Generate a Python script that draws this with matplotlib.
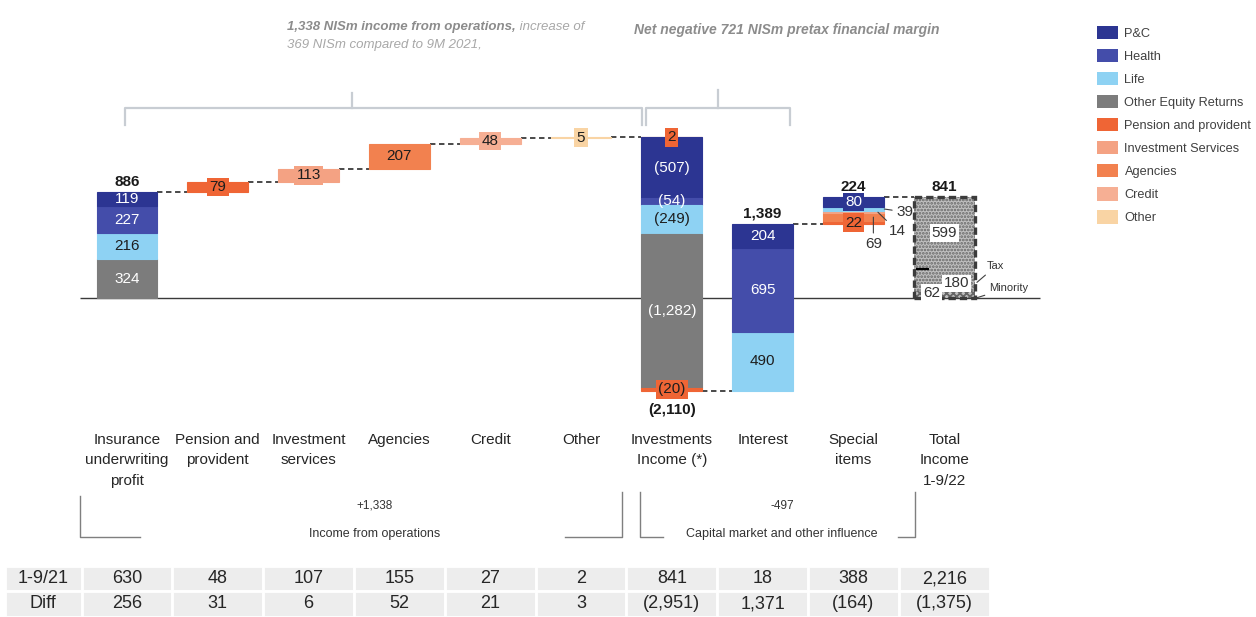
import matplotlib
matplotlib.use("Agg")
import matplotlib.pyplot as plt
import matplotlib.transforms as mtransforms
from matplotlib.patches import Patch, Rectangle
from matplotlib.lines import Line2D

# ---------------------------------------------------------------------------
# data (NIS millions)
# ---------------------------------------------------------------------------
categories = ["Insurance\nunderwriting\nprofit", "Pension and\nprovident",
              "Investment\nservices", "Agencies", "Credit", "Other",
              "Investments\nIncome (*)", "Interest", "Special\nitems",
              "Total\nIncome\n1-9/22"]

uw_series = ["Other Equity Returns", "Life", "Health", "P&C"]
uw_values = [324, 216, 227, 119]

ops_series = ["Pension and provident", "Investment Services", "Agencies",
              "Credit", "Other"]
ops_values = [79, 113, 207, 48, 5]

inv_series = ["Pension and provident", "P&C", "Health", "Life",
              "Other Equity Returns", "Pension and provident"]
inv_values = [2, -507, -54, -249, -1282, -20]

int_series = ["Life", "Health", "P&C"]
int_values = [490, 695, 204]

spec_series = ["Pension and provident", "Agencies", "Investment Services",
               "Life", "P&C"]
spec_values = [22, 69, 14, 39, 80]

total_parts = ["Minority", "Tax", "Net"]
total_values = [62, 180, 599]

prev_values = [630, 48, 107, 155, 27, 2, 841, 18, 388, 2216]

legend_names = ["P&C", "Health", "Life", "Other Equity Returns",
                "Pension and provident", "Investment Services", "Agencies",
                "Credit", "Other"]

colors = {
    "P&C": "#2C3592",
    "Health": "#444DAA",
    "Life": "#8ED2F3",
    "Other Equity Returns": "#7C7C7C",
    "Pension and provident": "#EF6535",
    "Investment Services": "#F4A283",
    "Agencies": "#F2814F",
    "Credit": "#F6AF94",
    "Other": "#F9D4A4",
}
light_text = {"P&C", "Health", "Other Equity Returns"}

# ---------------------------------------------------------------------------
# layout
# ---------------------------------------------------------------------------
W, H = 1256, 617
X0_PX, X_PX = 127, 90.8     # first category column, pixels per slot
Y0_PX, Y_PX = 298, 0.12     # zero line row, pixels per NISm
BAR_W = 0.67
FONT = ["Liberation Sans", "DejaVu Sans"]


def fmt(v):
    s = f"{abs(v):,}"
    return f"({s})" if v < 0 else s


def fx(px):
    return px / W


def fy(py):
    return 1 - py / H


fig = plt.figure(figsize=(W / 100, H / 100), dpi=100)
ax = fig.add_axes([0, 0, 1, 1])
ax.set_xlim(-X0_PX / X_PX, (W - X0_PX) / X_PX)
ax.set_ylim(-(H - Y0_PX) / Y_PX, Y0_PX / Y_PX)
ax.axis("off")
xdata_yfig = mtransforms.blended_transform_factory(ax.transData, fig.transFigure)

# zero line
ax.hlines(0, -0.52, 10.05, color="#3A3A3A", lw=1, zorder=1)


def seg_label(x, y, v, series, boxed=False, size=11):
    tc = "white" if series in light_text else "#1E1E1E"
    bbox = None
    if boxed:
        bbox = dict(boxstyle="square,pad=0.15", fc=colors[series], ec="none")
    ax.text(x, y, fmt(v), ha="center", va="center", color=tc, fontsize=size,
            family=FONT, bbox=bbox, zorder=5)


def draw_stack(x, base, series, values, labelled=True, boxed=False):
    level = base
    for s, v in zip(series, values):
        ax.bar(x, v, bottom=level, width=BAR_W, color=colors[s],
               edgecolor=colors[s], linewidth=0.8, zorder=2)
        if labelled:
            seg_label(x, level + v / 2, v, s, boxed=boxed or abs(v) < 50)
        level += v
    return level


def connector(x_from, x_to, level):
    ax.plot([x_from + BAR_W / 2, x_to - BAR_W / 2], [level, level],
            color="#3A3A3A", lw=1.3, ls=(0, (3, 2)), zorder=1)


def total_label(x, level, v, below=False):
    off = -12 if below else 3
    ax.annotate(fmt(v), (x, level), xytext=(0, off), textcoords="offset pixels",
                ha="center", va="top" if below else "bottom", fontsize=11,
                fontweight="bold", family=FONT, color="#1A1A1A", zorder=5)


# insurance underwriting profit
level = draw_stack(0, 0, uw_series, uw_values)
total_label(0, level, sum(uw_values))

# income from operations
for i, (s, v) in enumerate(zip(ops_series, ops_values), start=1):
    connector(i - 1, i, level)
    level = draw_stack(i, level, [s], [v], boxed=True)

# investments income
connector(5, 6, level)
level = draw_stack(6, level, inv_series, inv_values)
total_label(6, level, sum(inv_values), below=True)

# interest
connector(6, 7, level)
level = draw_stack(7, level, int_series, int_values, labelled=False)
lv = level - sum(int_values)
for s, v in zip(int_series, int_values):
    seg_label(7, lv + v / 2, v, s)
    lv += v
total_label(7, level, sum(int_values))

# special items
connector(7, 8, level)
spec_base = level
level = draw_stack(8, level, spec_series, spec_values, labelled=False)
total_label(8, level, sum(spec_values))
lv = spec_base
spec_mid = []
for v in spec_values:
    spec_mid.append(lv + v / 2)
    lv += v
seg_label(8, spec_mid[0], spec_values[0], spec_series[0], boxed=True)
seg_label(8, spec_mid[4], spec_values[4], spec_series[4], boxed=True)
leader = dict(arrowstyle="-", color="#404040", lw=0.8, shrinkA=1, shrinkB=0)
for idx, dx, off, ha in [(3, 0.34, (12, -3), "left"),
                         (2, 0.27, (11, -19), "left"),
                         (1, 0.22, (0, -27), "center")]:
    ax.annotate(fmt(spec_values[idx]), (8 + dx, spec_mid[idx]), xytext=off,
                textcoords="offset pixels", ha=ha, va="center", fontsize=11,
                family=FONT, color="#333333", arrowprops=leader, zorder=5)

# total income
connector(8, 9, level)
plt.rcParams["hatch.linewidth"] = 1.3
tot = 0
tot_mid = []
for name, v in zip(total_parts, total_values):
    hatch = "xxxxx" if name == "Minority" else "....."
    ax.bar(9, v, bottom=tot, width=BAR_W, color="#C0C0C0", edgecolor="#666666",
           hatch=hatch, linewidth=0, zorder=2)
    tot_mid.append(tot + v / 2)
    tot += v
ax.add_patch(Rectangle((9 - BAR_W / 2, 0), BAR_W, tot, fill=False,
                       ec="#3C3C3C", lw=2.4, ls=(0, (2.2, 1.2)), zorder=3))
ax.hlines(total_values[0] + total_values[1], 9 - BAR_W / 2 + 0.02, 9 - 0.17,
          color="black", lw=1.6, zorder=4)
total_label(9, tot, tot)
white_box = dict(boxstyle="square,pad=0.12", fc="white", ec="none")
for x, y, v in [(9, tot_mid[2], total_values[2]),
                (9.14, tot_mid[1] - 30, total_values[1]),
                (8.86, tot_mid[0] + 12, total_values[0])]:
    ax.text(x, y, fmt(v), ha="center", va="center", fontsize=11, family=FONT,
            color="#333333", bbox=white_box, zorder=5)
for name, y, off in [("Tax", 130, (10, 16)), ("Minority", 2, (12, 10))]:
    ax.annotate(name, (9 + 0.36, y), xytext=off, textcoords="offset pixels",
                ha="left", va="center", fontsize=8, family=FONT,
                color="#333333", arrowprops=leader, zorder=5)

# category labels
for i, name in enumerate(categories):
    ax.text(i, fy(433), name, transform=xdata_yfig, ha="center", va="top",
            fontsize=11, family=FONT, color="#262626", linespacing=1.58)

# headline texts above the chart
ops_total = sum(uw_values) + sum(ops_values)
ops_prev = sum(prev_values[:6])
fin_margin = sum(inv_values) + sum(int_values)
t1 = fig.text(fx(287), fy(27), f"{ops_total:,} NISm income from operations,",
              ha="left", va="center", fontsize=9.5, style="italic",
              fontweight="bold", family=FONT, color="#8C8C8C")
ax.annotate(" increase of", xy=(1, 0.5), xycoords=t1, ha="left", va="center",
            fontsize=9.5, style="italic", family=FONT, color="#A8A8A8")
fig.text(fx(287), fy(45), f"{ops_total - ops_prev:,} NISm compared to 9M 2021,",
         ha="left", va="center", fontsize=9.5, style="italic", family=FONT,
         color="#A8A8A8")
fig.text(fx(634), fy(30),
         f"Net negative {abs(fin_margin):,} NISm pretax financial margin",
         ha="left", va="center", fontsize=10, style="italic", fontweight="bold",
         family=FONT, color="#8C8C8C")

# braces under the headlines
brace = dict(color="#C8CDD3", lw=1.6, transform=fig.transFigure)
for x0, x1, xm, ym in [(125, 642, 352, 93), (646, 790, 718, 90)]:
    fig.add_artist(Line2D([fx(x0), fx(x0), fx(x1), fx(x1)],
                          [fy(125), fy(108), fy(108), fy(125)], **brace))
    fig.add_artist(Line2D([fx(xm), fx(xm)], [fy(108), fy(ym)], **brace))

# group brackets below the categories
grp = dict(color="#7F7F7F", lw=1, transform=fig.transFigure)
for xs, ys in [([140, 80, 80], [537, 537, 496]),
               ([565, 622, 622], [537, 537, 492]),
               ([640, 640, 663], [492, 537, 537]),
               ([898, 915, 915], [537, 537, 492])]:
    fig.add_artist(Line2D([fx(x) for x in xs], [fy(y) for y in ys], **grp))
cap_total = sum(inv_values) + sum(int_values) + sum(spec_values)
for x, head, sub in [(375, f"+{ops_total:,}", "Income from operations"),
                     (782, f"{cap_total:,}", "Capital market and other influence")]:
    fig.text(fx(x), fy(506), head, ha="center", va="center", fontsize=8.5,
             family=FONT, color="#333333")
    fig.text(fx(x), fy(534), sub, ha="center", va="center", fontsize=9,
             family=FONT, color="#333333")

# comparison table
finals = [sum(uw_values)] + ops_values + [sum(inv_values), sum(int_values),
                                         sum(spec_values), sum(total_values)]
diff_values = [f - p for f, p in zip(finals, prev_values)]
rows = [("1-9/21", prev_values, 566, 591), ("Diff", diff_values, 591, 617)]
for head, vals, top, bot in rows:
    ax.add_patch(Rectangle((fx(5), fy(bot)), fx(81.6) - fx(5), fy(top) - fy(bot),
                           transform=fig.transFigure, fc="#EDEDED", ec="white",
                           lw=2, zorder=1))
    fig.text(fx(43), fy((top + bot) / 2), head, ha="center", va="center",
             fontsize=13, family=FONT, color="#262626")
    for i, v in enumerate(vals):
        ax.add_patch(Rectangle((i - 0.5, fy(bot)), 1, fy(top) - fy(bot),
                               transform=xdata_yfig, fc="#EDEDED", ec="white",
                               lw=2, zorder=1))
        ax.text(i, fy((top + bot) / 2), fmt(v), transform=xdata_yfig,
                ha="center", va="center", fontsize=13, family=FONT,
                color="#262626")

# legend
handles = [Patch(facecolor=colors[n], label=n) for n in legend_names]
fig.legend(handles=handles, loc="upper left", bbox_to_anchor=(fx(1097), fy(26)),
           frameon=False, prop={"family": FONT, "size": 9.2},
           labelcolor="#404040", handlelength=1.65, handleheight=1.2,
           labelspacing=0.72, handletextpad=0.5, borderpad=0,
           borderaxespad=0)

fig.savefig("out.png", dpi=100)
